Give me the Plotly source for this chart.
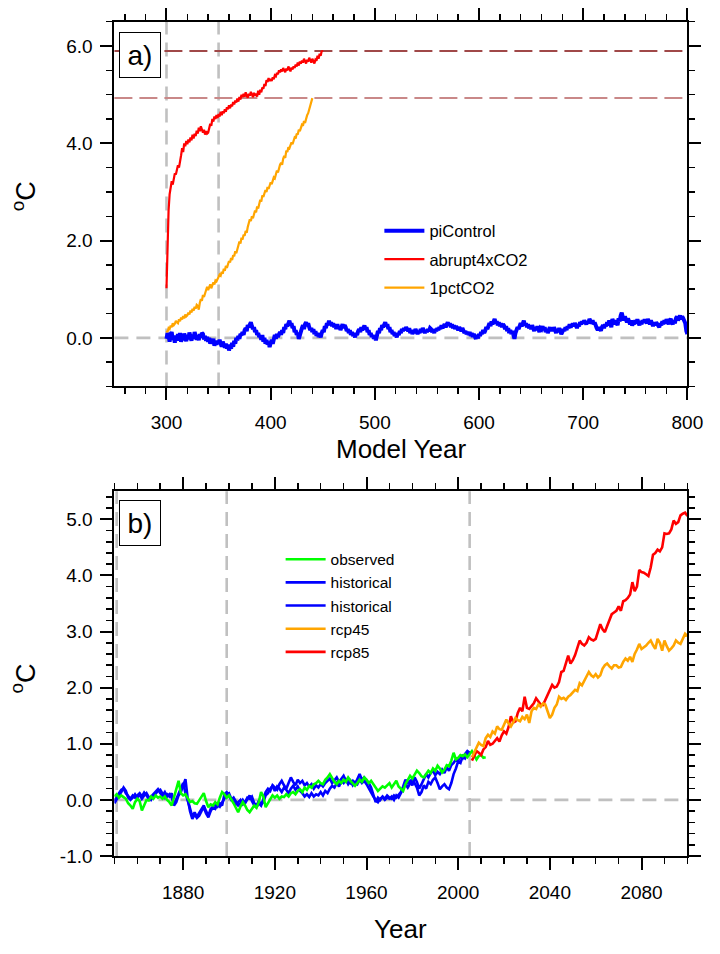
import plotly.graph_objects as go

# ---------------- Panel a data ----------------
pic_start = 300
picontrol = [
    -0.02, 0.10, 0.04, -0.08, 0.06, 0.12, -0.04, 0.02, -0.10, 0.05,
    -0.06, 0.08, -0.02, 0.10, -0.08, 0.03, -0.05, 0.09, 0.00, -0.07,
    0.06, -0.03, 0.11, 0.02, -0.06, 0.07, -0.02, 0.12, 0.03, -0.04,
    0.05, -0.05, 0.08, 0.00, 0.10, 0.08, -0.03, 0.04, -0.06, 0.02,
    -0.08, 0.00, -0.12, -0.05, -0.10, -0.02, -0.16, -0.08, -0.14, -0.06,
    -0.10, -0.04, -0.12, -0.18, -0.08, -0.15, -0.20, -0.12, -0.22, -0.14,
    -0.26, -0.16, -0.22, -0.10, -0.18, -0.06, -0.12, 0.00, -0.05, 0.04,
    -0.02, 0.08, 0.05, 0.12, 0.06, 0.16, 0.20, 0.14, 0.26, 0.22,
    0.30, 0.32, 0.24, 0.18, 0.22, 0.12, 0.16, 0.06, 0.10, 0.02,
    0.05, -0.04, 0.06, -0.08, 0.00, -0.12, -0.04, -0.14, -0.08, -0.19,
    -0.10, -0.04, -0.12, 0.00, 0.06, -0.02, 0.08, 0.02, 0.10, 0.12,
    0.06, 0.16, 0.10, 0.22, 0.18, 0.28, 0.24, 0.32, 0.35, 0.26,
    0.30, 0.20, 0.24, 0.12, 0.16, 0.06, 0.10, -0.02, 0.08, 0.14,
    0.20, 0.26, 0.18, 0.28, 0.32, 0.24, 0.30, 0.22, 0.16, 0.20,
    0.12, 0.18, 0.08, 0.14, 0.04, 0.10, 0.02, 0.08, 0.01, 0.10,
    0.16, 0.12, 0.24, 0.20, 0.30, 0.26, 0.35, 0.28, 0.32, 0.24,
    0.30, 0.22, 0.26, 0.18, 0.28, 0.20, 0.24, 0.16, 0.22, 0.28,
    0.20, 0.26, 0.22, 0.14, 0.18, 0.10, 0.16, 0.06, 0.12, 0.04,
    0.08, 0.01, 0.10, 0.06, 0.14, 0.18, 0.12, 0.22, 0.16, 0.20,
    0.25, 0.18, 0.22, 0.12, 0.16, 0.06, 0.10, 0.02, 0.06, -0.02,
    0.04, -0.05, 0.08, 0.14, 0.10, 0.20, 0.16, 0.26, 0.22, 0.28,
    0.32, 0.24, 0.28, 0.18, 0.22, 0.12, 0.16, 0.08, 0.12, 0.04,
    0.08, 0.01, 0.10, 0.06, 0.14, 0.10, 0.18, 0.14, 0.20, 0.16,
    0.22, 0.18, 0.14, 0.20, 0.10, 0.16, 0.08, 0.14, 0.10, 0.18,
    0.12, 0.08, 0.14, 0.10, 0.18, 0.12, 0.20, 0.14, 0.10, 0.16,
    0.12, 0.18, 0.14, 0.20, 0.18, 0.12, 0.16, 0.10, 0.18, 0.14,
    0.20, 0.16, 0.22, 0.18, 0.26, 0.20, 0.24, 0.28, 0.22, 0.30,
    0.32, 0.26, 0.30, 0.22, 0.28, 0.20, 0.26, 0.18, 0.24, 0.20,
    0.16, 0.22, 0.18, 0.14, 0.20, 0.16, 0.10, 0.14, 0.08, 0.12,
    0.06, 0.12, 0.04, 0.10, 0.02, 0.08, 0.00, -0.02, 0.06, -0.01,
    0.08, 0.04, 0.12, 0.08, 0.16, 0.10, 0.15, 0.22, 0.18, 0.26,
    0.30, 0.24, 0.34, 0.28, 0.36, 0.39, 0.30, 0.34, 0.26, 0.32,
    0.24, 0.30, 0.22, 0.28, 0.25, 0.18, 0.24, 0.14, 0.20, 0.10,
    0.16, 0.08, 0.14, 0.04, -0.02, 0.10, 0.16, 0.22, 0.18, 0.26,
    0.30, 0.24, 0.28, 0.35, 0.26, 0.30, 0.22, 0.28, 0.20, 0.24,
    0.18, 0.26, 0.20, 0.14, 0.22, 0.16, 0.24, 0.18, 0.12, 0.20,
    0.18, 0.24, 0.16, 0.22, 0.12, 0.18, 0.10, 0.16, 0.22, 0.14,
    0.20, 0.14, 0.22, 0.16, 0.10, 0.18, 0.12, 0.20, 0.14, 0.08,
    0.12, 0.18, 0.14, 0.22, 0.16, 0.24, 0.20, 0.28, 0.22, 0.26,
    0.29, 0.24, 0.30, 0.26, 0.20, 0.28, 0.24, 0.32, 0.28, 0.34,
    0.30, 0.36, 0.32, 0.28, 0.34, 0.30, 0.39, 0.34, 0.30, 0.36,
    0.28, 0.32, 0.24, 0.20, 0.16, 0.22, 0.18, 0.15, 0.22, 0.26,
    0.20, 0.28, 0.24, 0.32, 0.26, 0.36, 0.30, 0.22, 0.39, 0.34,
    0.28, 0.36, 0.30, 0.26, 0.40, 0.34, 0.46, 0.52, 0.42, 0.36,
    0.44, 0.38, 0.32, 0.40, 0.34, 0.28, 0.36, 0.25, 0.32, 0.28,
    0.36, 0.30, 0.38, 0.32, 0.26, 0.34, 0.28, 0.36, 0.32, 0.38,
    0.34, 0.30, 0.39, 0.34, 0.28, 0.36, 0.30, 0.24, 0.32, 0.26,
    0.32, 0.28, 0.24, 0.22, 0.30, 0.26, 0.34, 0.28, 0.36, 0.30,
    0.38, 0.32, 0.28, 0.36, 0.39, 0.32, 0.28, 0.36, 0.30, 0.40,
    0.44, 0.36, 0.42, 0.46, 0.38, 0.44, 0.40, 0.34, 0.30, 0.14,
    0.08,
]

abrupt_start = 300
abrupt4x = [
    1.02, 2.05, 2.62, 2.95, 3.12, 3.22, 3.15, 3.30, 3.38, 3.36,
    3.48, 3.55, 3.50, 3.68, 3.75, 3.90, 3.82, 4.00, 3.94, 4.05,
    3.98, 4.08, 4.02, 4.12, 4.06, 4.18, 4.10, 4.20, 4.15, 4.26,
    4.20, 4.32, 4.25, 4.35, 4.30, 4.22, 4.28, 4.18, 4.25, 4.20,
    4.22, 4.32, 4.40, 4.36, 4.50, 4.45, 4.55, 4.50, 4.58, 4.52,
    4.60, 4.55, 4.65, 4.58, 4.66, 4.62, 4.70, 4.65, 4.74, 4.70,
    4.78, 4.72, 4.80, 4.76, 4.85, 4.80, 4.88, 4.84, 4.92, 4.86,
    4.95, 4.90, 5.00, 4.95, 5.02, 4.96, 5.05, 4.98, 4.94, 5.02,
    4.98, 5.06, 5.00, 4.95, 5.04, 4.98, 5.02, 4.96, 5.08, 5.00,
    5.10, 5.05, 5.15, 5.12, 5.22, 5.18, 5.30, 5.26, 5.34, 5.28,
    5.32, 5.28, 5.36, 5.32, 5.40, 5.38, 5.45, 5.42, 5.50, 5.46,
    5.52, 5.48, 5.55, 5.50, 5.46, 5.54, 5.50, 5.58, 5.52, 5.48,
    5.56, 5.52, 5.58, 5.55, 5.62, 5.58, 5.66, 5.60, 5.68, 5.64,
    5.70, 5.66, 5.74, 5.68, 5.64, 5.72, 5.68, 5.76, 5.70, 5.66,
    5.74, 5.68, 5.64, 5.72, 5.70, 5.80, 5.74, 5.84, 5.80, 5.90,
    5.88,
]

onepct_start = 300
onepct = [
    0.15, 0.12, 0.20, 0.18, 0.25, 0.22, 0.30, 0.26, 0.29, 0.35,
    0.32, 0.30, 0.38, 0.34, 0.42, 0.38, 0.45, 0.40, 0.48, 0.44,
    0.46, 0.52, 0.48, 0.56, 0.52, 0.60, 0.56, 0.64, 0.60, 0.68,
    0.66, 0.58, 0.72, 0.80, 0.76, 0.88, 0.84, 0.92, 0.97, 1.05,
    0.98, 1.04, 1.10, 1.02, 1.08, 1.14, 1.10, 1.18, 1.16, 1.22,
    1.26, 1.30, 1.28, 1.36, 1.32, 1.42, 1.38, 1.48, 1.44, 1.54,
    1.58, 1.55, 1.64, 1.60, 1.70, 1.68, 1.78, 1.74, 1.85, 1.90,
    1.98, 1.94, 2.06, 2.02, 2.12, 2.10, 2.20, 2.16, 2.28, 2.36,
    2.44, 2.40, 2.50, 2.46, 2.56, 2.62, 2.58, 2.70, 2.66, 2.78,
    2.84, 2.80, 2.93, 2.90, 2.98, 3.04, 3.00, 3.10, 3.06, 3.16,
    3.20, 3.16, 3.26, 3.30, 3.28, 3.38, 3.44, 3.40, 3.52, 3.56,
    3.60, 3.56, 3.68, 3.74, 3.70, 3.85, 3.82, 3.92, 3.90, 3.98,
    4.02, 3.98, 4.08, 4.12, 4.10, 4.20, 4.18, 4.28, 4.25, 4.34,
    4.38, 4.36, 4.46, 4.42, 4.54, 4.58, 4.62, 4.70, 4.78, 4.86,
    4.93,
]

a_ref_years = [300, 350]
a_level_lines = [5.90, 4.93]
a_level_colors = ["#a04848", "#c98888"]

# ---------------- Panel b data ----------------
hist_start = 1850
historical_1 = [
    -0.02, 0.06, 0.12, 0.18, 0.20, 0.12, 0.06, 0.02, 0.08, 0.04,
    0.08, 0.12, 0.06, 0.13, 0.08, 0.02, 0.06, 0.10, 0.14, 0.19,
    0.12, 0.08, 0.14, 0.06, 0.10, 0.04, -0.08, 0.02, 0.10, 0.22,
    0.30, 0.12, 0.00, -0.15, -0.30, -0.22, -0.30, -0.24, -0.18, -0.10,
    -0.20, -0.28, -0.16, -0.12, -0.08, -0.12, -0.06, -0.10, 0.10, 0.14,
    0.06, 0.00, 0.04, -0.04, -0.10, -0.06, 0.00, -0.06, 0.02, 0.08,
    -0.02, -0.10, -0.13, -0.06, -0.10, 0.02, 0.14, 0.20, 0.16, 0.26,
    0.22, 0.18, 0.28, 0.34, 0.26, 0.20, 0.30, 0.40, 0.32, 0.26,
    0.36, 0.30, 0.34, 0.26, 0.30, 0.24, 0.28, 0.20, 0.26, 0.22,
    0.28, 0.24, 0.30, 0.34, 0.38, 0.30, 0.36, 0.40, 0.32, 0.38,
    0.43, 0.34, 0.38, 0.30, 0.34, 0.28, 0.38, 0.46, 0.36, 0.40,
    0.34, 0.30, 0.22, 0.10, -0.04, 0.04, 0.00, 0.06, 0.02, 0.08,
    0.04, 0.02, 0.08, 0.04, 0.10, 0.14, 0.24, 0.36, 0.30, 0.34,
    0.26, 0.40, 0.32, 0.20, 0.28, 0.36, 0.46, 0.40, 0.48, 0.52,
    0.44, 0.50, 0.46, 0.54, 0.48, 0.58, 0.52, 0.62, 0.66, 0.72,
    0.70, 0.78, 0.74, 0.82, 0.87, 0.84,
]
historical_2 = [
    -0.06, 0.02, 0.08, 0.14, 0.22, 0.16, 0.04, 0.00, 0.04, 0.10,
    0.04, 0.10, 0.02, 0.08, 0.12, 0.05, 0.00, 0.06, 0.12, 0.16,
    0.18, 0.10, 0.04, 0.10, 0.06, 0.12, -0.10, -0.04, 0.08, 0.14,
    0.24, 0.37, 0.02, -0.20, -0.34, -0.26, -0.32, -0.28, -0.20, -0.13,
    -0.24, -0.31, -0.20, -0.13, -0.16, -0.08, -0.12, -0.04, 0.04, 0.10,
    0.12, 0.02, -0.02, -0.08, -0.04, 0.00, -0.08, -0.04, 0.04, 0.02,
    0.06, -0.06, -0.10, -0.02, -0.08, -0.04, 0.08, 0.12, 0.20, 0.25,
    0.16, 0.24, 0.20, 0.14, 0.22, 0.18, 0.12, 0.20, 0.25, 0.18,
    0.24, 0.16, 0.12, 0.06, 0.10, 0.05, 0.12, 0.06, 0.10, 0.08,
    0.14, 0.08, 0.16, 0.12, 0.20, 0.25, 0.22, 0.30, 0.24, 0.34,
    0.30, 0.36, 0.28, 0.34, 0.26, 0.32, 0.28, 0.36, 0.30, 0.34,
    0.28, 0.20, 0.12, 0.06, 0.00, -0.04, 0.02, 0.05, 0.00, 0.04,
    0.02, 0.06, 0.00, 0.08, 0.04, 0.12, 0.20, 0.28, 0.22, 0.30,
    0.36, 0.30, 0.22, 0.08, 0.14, 0.26, 0.20, 0.32, 0.28, 0.36,
    0.40, 0.30, 0.19, 0.24, 0.28, 0.22, 0.19, 0.30, 0.46, 0.56,
    0.69, 0.66, 0.78, 0.74, 0.82, 0.86,
]

obs_start = 1850
observed = [
    0.06, 0.10, 0.04, 0.08, 0.05, 0.02, -0.06, -0.10, -0.16, -0.04,
    0.02, -0.02, -0.19, -0.08, 0.00, -0.01, 0.06, 0.02, 0.08, 0.04,
    0.06, 0.02, 0.06, 0.00, -0.04, -0.10, 0.04, 0.20, 0.34, 0.12,
    0.08, 0.10, 0.04, -0.04, -0.02, -0.06, -0.07, 0.00, 0.06, 0.12,
    -0.02, -0.13, -0.08, -0.10, -0.04, -0.08, 0.04, 0.14, 0.10, 0.04,
    0.08, 0.02, -0.06, -0.14, -0.22, -0.12, -0.04, -0.10, -0.18, -0.22,
    -0.16, -0.10, -0.14, -0.04, 0.14, 0.06, -0.13, -0.06, 0.02, 0.08,
    0.04, 0.08, 0.02, 0.06, 0.05, 0.10, 0.06, 0.12, 0.14, 0.10,
    0.16, 0.19, 0.14, 0.22, 0.18, 0.25, 0.22, 0.28, 0.30, 0.34,
    0.30, 0.28, 0.36, 0.40, 0.46, 0.38, 0.32, 0.28, 0.34, 0.30,
    0.36, 0.32, 0.40, 0.34, 0.30, 0.25, 0.30, 0.36, 0.32, 0.40,
    0.36, 0.30, 0.34, 0.28, 0.22, 0.16, 0.20, 0.24, 0.22, 0.26,
    0.30, 0.22, 0.28, 0.34, 0.24, 0.20, 0.16, 0.28, 0.36, 0.43,
    0.38, 0.46, 0.52, 0.48, 0.42, 0.40, 0.46, 0.52, 0.48, 0.56,
    0.52, 0.61, 0.56, 0.49, 0.54, 0.62, 0.60, 0.70, 0.84, 0.72,
    0.75, 0.80, 0.78, 0.81, 0.76, 0.82, 0.87, 0.80, 0.72, 0.78,
    0.80, 0.75, 0.76,
]

rcp_start = 2006
rcp45 = [
    0.76, 0.84, 0.92, 1.02, 0.98, 0.96, 1.10, 1.16, 1.12, 1.22,
    1.18, 1.31, 1.26, 1.25, 1.34, 1.43, 1.36, 1.31, 1.38, 1.46,
    1.42, 1.40, 1.48, 1.44, 1.52, 1.37, 1.58, 1.64, 1.62, 1.70,
    1.66, 1.72, 1.70, 1.58, 1.46, 1.52, 1.64, 1.70, 1.84, 1.80,
    1.82, 1.78, 1.84, 1.87, 1.92, 1.96, 1.94, 2.08, 2.04, 2.12,
    2.20, 2.28, 2.22, 2.19, 2.24, 2.18, 2.22, 2.34, 2.40, 2.43,
    2.38, 2.34, 2.40, 2.40, 2.36, 2.37, 2.46, 2.52, 2.48, 2.55,
    2.46, 2.60, 2.68, 2.78, 2.69, 2.72, 2.75, 2.80, 2.84, 2.76,
    2.69, 2.87, 2.80, 2.66, 2.84, 2.74, 2.66, 2.70, 2.75, 2.84,
    2.80, 2.78, 2.86, 2.96, 2.92,
]
rcp85 = [
    0.70, 0.80, 0.87, 0.84, 0.80, 0.90, 0.94, 1.05, 0.98, 1.00,
    1.06, 1.10, 1.04, 1.15, 1.22, 1.18, 1.30, 1.49, 1.38, 1.40,
    1.55, 1.64, 1.58, 1.84, 1.64, 1.62, 1.67, 1.72, 1.81, 1.76,
    1.70, 1.69, 1.78, 1.84, 1.95, 2.05, 2.00, 2.02, 2.10, 2.28,
    2.30, 2.42, 2.57, 2.43, 2.49, 2.58, 2.70, 2.84, 2.78, 2.75,
    2.80, 2.90, 2.86, 2.84, 2.87, 3.00, 3.13, 3.04, 2.99, 3.10,
    3.22, 3.31, 3.34, 3.37, 3.45, 3.37, 3.54, 3.56, 3.60, 3.66,
    3.88, 3.72, 3.80, 4.10, 4.06, 4.05, 4.02, 3.99, 4.14, 4.37,
    4.40, 4.46, 4.43, 4.50, 4.75, 4.74, 4.75, 4.82, 4.98, 4.92,
    4.95, 5.07, 5.10, 5.12, 5.06,
]

b_ref_years = [1851, 1899, 2005]

# tick labels
a_xticks = [300, 400, 500, 600, 700, 800]
a_yticks = [0.0, 2.0, 4.0, 6.0]
b_xticks = [1880, 1920, 1960, 2000, 2040, 2080]
b_yticks = [-1.0, 0.0, 1.0, 2.0, 3.0, 4.0, 5.0]


def years(start, vals):
    return list(range(start, start + len(vals)))


FONT = "Liberation Sans, Arial, Helvetica, sans-serif"
BLUE = "#0000ff"
RED = "#ff0000"
ORANGE = "#ffa500"
GREEN = "#00ff00"
GRAY = "#c0c0c0"

fig = go.Figure()

# Panel a traces
fig.add_trace(go.Scatter(x=years(pic_start, picontrol), y=picontrol, mode="lines",
                         name="piControl", line=dict(color=BLUE, width=4),
                         xaxis="x", yaxis="y", legend="legend", legendgroup="a1"))
fig.add_trace(go.Scatter(x=years(abrupt_start, abrupt4x), y=abrupt4x, mode="lines",
                         name="abrupt4xCO2", line=dict(color=RED, width=2.2),
                         xaxis="x", yaxis="y", legend="legend", legendgroup="a2"))
fig.add_trace(go.Scatter(x=years(onepct_start, onepct), y=onepct, mode="lines",
                         name="1pctCO2", line=dict(color=ORANGE, width=2.2),
                         xaxis="x", yaxis="y", legend="legend", legendgroup="a3"))

# Panel b traces
fig.add_trace(go.Scatter(x=years(hist_start, historical_1), y=historical_1, mode="lines",
                         name="historical", line=dict(color=BLUE, width=2.6),
                         xaxis="x2", yaxis="y2", legend="legend2", legendrank=2))
fig.add_trace(go.Scatter(x=years(hist_start, historical_2), y=historical_2, mode="lines",
                         name="historical", line=dict(color=BLUE, width=2.6),
                         xaxis="x2", yaxis="y2", legend="legend2", legendrank=3))
fig.add_trace(go.Scatter(x=years(obs_start, observed), y=observed, mode="lines",
                         name="observed", line=dict(color=GREEN, width=2.6),
                         xaxis="x2", yaxis="y2", legend="legend2", legendrank=1))
fig.add_trace(go.Scatter(x=years(rcp_start, rcp85), y=rcp85, mode="lines",
                         name="rcp85", line=dict(color=RED, width=2.6),
                         xaxis="x2", yaxis="y2", legend="legend2", legendrank=5))
fig.add_trace(go.Scatter(x=years(rcp_start, rcp45), y=rcp45, mode="lines",
                         name="rcp45", line=dict(color=ORANGE, width=2.6),
                         xaxis="x2", yaxis="y2", legend="legend2", legendrank=4))

shapes = []
for yr in a_ref_years:
    shapes.append(dict(type="line", xref="x", yref="y domain", x0=yr, x1=yr, y0=0, y1=1,
                       line=dict(color=GRAY, width=2.6, dash="14px,8px"), layer="below"))
for lvl, col in zip(a_level_lines, a_level_colors):
    shapes.append(dict(type="line", xref="x domain", yref="y", x0=0, x1=1, y0=lvl, y1=lvl,
                       line=dict(color=col, width=2, dash="18px,7px"), layer="below"))
shapes.append(dict(type="line", xref="x domain", yref="y", x0=0, x1=1, y0=0, y1=0,
                   line=dict(color=GRAY, width=2.6, dash="14px,8px"), layer="below"))
for yr in b_ref_years:
    shapes.append(dict(type="line", xref="x2", yref="y2 domain", x0=yr, x1=yr, y0=0, y1=1,
                       line=dict(color=GRAY, width=2.6, dash="14px,8px"), layer="below"))
shapes.append(dict(type="line", xref="x2 domain", yref="y2", x0=0, x1=1, y0=0, y1=0,
                   line=dict(color=GRAY, width=2.6, dash="14px,8px"), layer="below"))

# Full-window figure; the page body margin is removed by the post script below.
W, H = 720, 954
def px_x(p):
    return p / W
def px_y(p):
    return 1 - p / H

axis_common = dict(
    showline=True, linecolor="black", linewidth=2, mirror="allticks",
    ticks="outside", ticklen=12, tickwidth=2, tickcolor="black",
    showgrid=False, zeroline=False, ticklabeloverflow="allow",
    tickfont=dict(family=FONT, size=19, color="black"),
)

fig.update_layout(
    width=W, height=H,
    margin=dict(l=0, r=0, t=0, b=0),
    paper_bgcolor="white", plot_bgcolor="white",
    font=dict(family=FONT, color="black"),
    xaxis=dict(domain=[px_x(117), px_x(703)], range=[250, 800], anchor="y",
               tickmode="array", tickvals=a_xticks, ticktext=[str(v) for v in a_xticks],
               minor=dict(ticks="outside", ticklen=6, tickwidth=1.5, tickcolor="black", dtick=20, tick0=0),
               ticklabelstandoff=6, **axis_common),
    yaxis=dict(domain=[px_y(391), px_y(22)], range=[-1, 6.5], anchor="x",
               tickmode="array", tickvals=a_yticks, ticktext=["%.1f" % v for v in a_yticks],
               minor=dict(ticks="outside", ticklen=6, tickwidth=1.5, tickcolor="black", dtick=0.5, tick0=0),
               ticklabelstandoff=4, **axis_common),
    xaxis2=dict(domain=[px_x(117), px_x(703)], range=[1850, 2100], anchor="y2",
                tickmode="array", tickvals=b_xticks, ticktext=[str(v) for v in b_xticks],
                minor=dict(ticks="outside", ticklen=6, tickwidth=1.5, tickcolor="black", dtick=10, tick0=1850),
                ticklabelstandoff=6, **axis_common),
    yaxis2=dict(domain=[px_y(866), px_y(497)], range=[-1, 5.5], anchor="x2",
                tickmode="array", tickvals=b_yticks, ticktext=["%.1f" % v for v in b_yticks],
                minor=dict(ticks="outside", ticklen=6, tickwidth=1.5, tickcolor="black", dtick=0.2, tick0=0),
                ticklabelstandoff=4, **axis_common),
    legend=dict(x=px_x(388), y=px_y(216), xanchor="left", yanchor="top",
                bgcolor="rgba(0,0,0,0)", borderwidth=0, itemwidth=40,
                font=dict(family=FONT, size=16.5, color="black"),
                traceorder="grouped", tracegroupgap=4),
    legend2=dict(x=px_x(287), y=px_y(549), xanchor="left", yanchor="top",
                 bgcolor="rgba(0,0,0,0)", borderwidth=0, itemwidth=40,
                 font=dict(family=FONT, size=15.5, color="black"),
                 traceorder="normal"),
    shapes=shapes,
    showlegend=True,
)

annotations = [
    dict(text="a)", xref="paper", yref="paper", x=px_x(122), y=px_y(32),
         xanchor="left", yanchor="top", showarrow=False,
         font=dict(family=FONT, size=28, color="black"),
         bordercolor="black", borderwidth=1, borderpad=0, width=40, height=44,
         bgcolor="white"),
    dict(text="b)", xref="paper", yref="paper", x=px_x(122), y=px_y(506),
         xanchor="left", yanchor="top", showarrow=False,
         font=dict(family=FONT, size=28, color="black"),
         bordercolor="black", borderwidth=1, borderpad=0, width=40, height=44,
         bgcolor="white"),
    dict(text="Model Year", xref="paper", yref="paper", x=px_x(410), y=px_y(454),
         xanchor="center", yanchor="middle", showarrow=False,
         font=dict(family=FONT, size=26, color="black")),
    dict(text="Year", xref="paper", yref="paper", x=px_x(410), y=px_y(940),
         xanchor="center", yanchor="middle", showarrow=False,
         font=dict(family=FONT, size=26, color="black")),
    dict(text="<sup>o</sup>C", xref="paper", yref="paper", x=px_x(24), y=px_y(198),
         xanchor="center", yanchor="middle", showarrow=False, textangle=-90,
         font=dict(family=FONT, size=27, color="black")),
    dict(text="<sup>o</sup>C", xref="paper", yref="paper", x=px_x(24), y=px_y(686),
         xanchor="center", yanchor="middle", showarrow=False, textangle=-90,
         font=dict(family=FONT, size=27, color="black")),
]
fig.update_layout(annotations=annotations)

fig.write_html(
    "out.html",
    config={"displayModeBar": False, "staticPlot": True},
    post_script="document.body.style.margin='0';document.documentElement.style.overflow='hidden';document.body.style.overflow='hidden';",
)
